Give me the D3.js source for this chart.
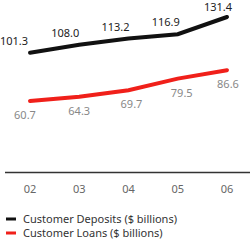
<!DOCTYPE html>
<html><head><meta charset="utf-8">
<script src="https://cdn.jsdelivr.net/npm/d3@7"></script>
<style>body{margin:0;background:#fff}svg{display:block}text{font-family:"Noto Sans",sans-serif}</style>
</head><body>
<svg id="c" width="250" height="244"></svg>
<script>
const years = ["02","03","04","05","06"];
const deposits = [101.3,108.0,113.2,116.9,131.4];
const loans = [60.7,64.3,69.7,79.5,86.6];
const seriesNames = ["Customer Deposits ($ billions)","Customer Loans ($ billions)"];

const svg = d3.select("#c");
const x = d3.scalePoint().domain(years).range([30,227]);
const y = d3.scaleLinear().domain([0,131.4]).range([173,17]);

svg.append("line").attr("x1",5).attr("x2",250).attr("y1",172.5).attr("y2",172.5)
  .attr("stroke","#333").attr("stroke-width",1.3);

const line = d3.line().x((d,i)=>x(years[i])).y(d=>y(d));
svg.append("path").datum(deposits).attr("d",line).attr("fill","none")
  .attr("stroke","#111").attr("stroke-width",4).attr("stroke-linecap","round");
svg.append("path").datum(loans).attr("d",line).attr("fill","none")
  .attr("stroke","#f0201a").attr("stroke-width",4).attr("stroke-linecap","round");

svg.selectAll(".dl").data(deposits).enter().append("text")
  .attr("x",(d,i)=>x(years[i])-[16,14,13,12,9][i]).attr("y",(d,i)=>Math.max(y(d)-8,10.5))
  .attr("text-anchor","middle").attr("font-size",11).attr("fill","#222")
  .text(d=>d.toFixed(1));
svg.selectAll(".ll").data(loans).enter().append("text")
  .attr("x",(d,i)=>x(years[i])+[-5,0,3,4,1][i]).attr("y",d=>y(d)+18)
  .attr("text-anchor","middle").attr("font-size",11).attr("fill","#888")
  .text(d=>d.toFixed(1));

svg.selectAll(".tk").data(years).enter().append("text")
  .attr("x",d=>x(d)).attr("y",193).attr("text-anchor","middle")
  .attr("font-size",11).attr("fill","#666").text(d=>d);

const colors=["#111","#f0201a"];
seriesNames.forEach((n,i)=>{
  const yy = 219 + i*14;
  svg.append("rect").attr("x",6).attr("y",yy-1.5).attr("width",10).attr("height",3).attr("fill",colors[i]);
  svg.append("text").attr("x",23).attr("y",yy+4).attr("font-size",11).attr("fill","#333").text(n);
});
</script>
</body></html>
